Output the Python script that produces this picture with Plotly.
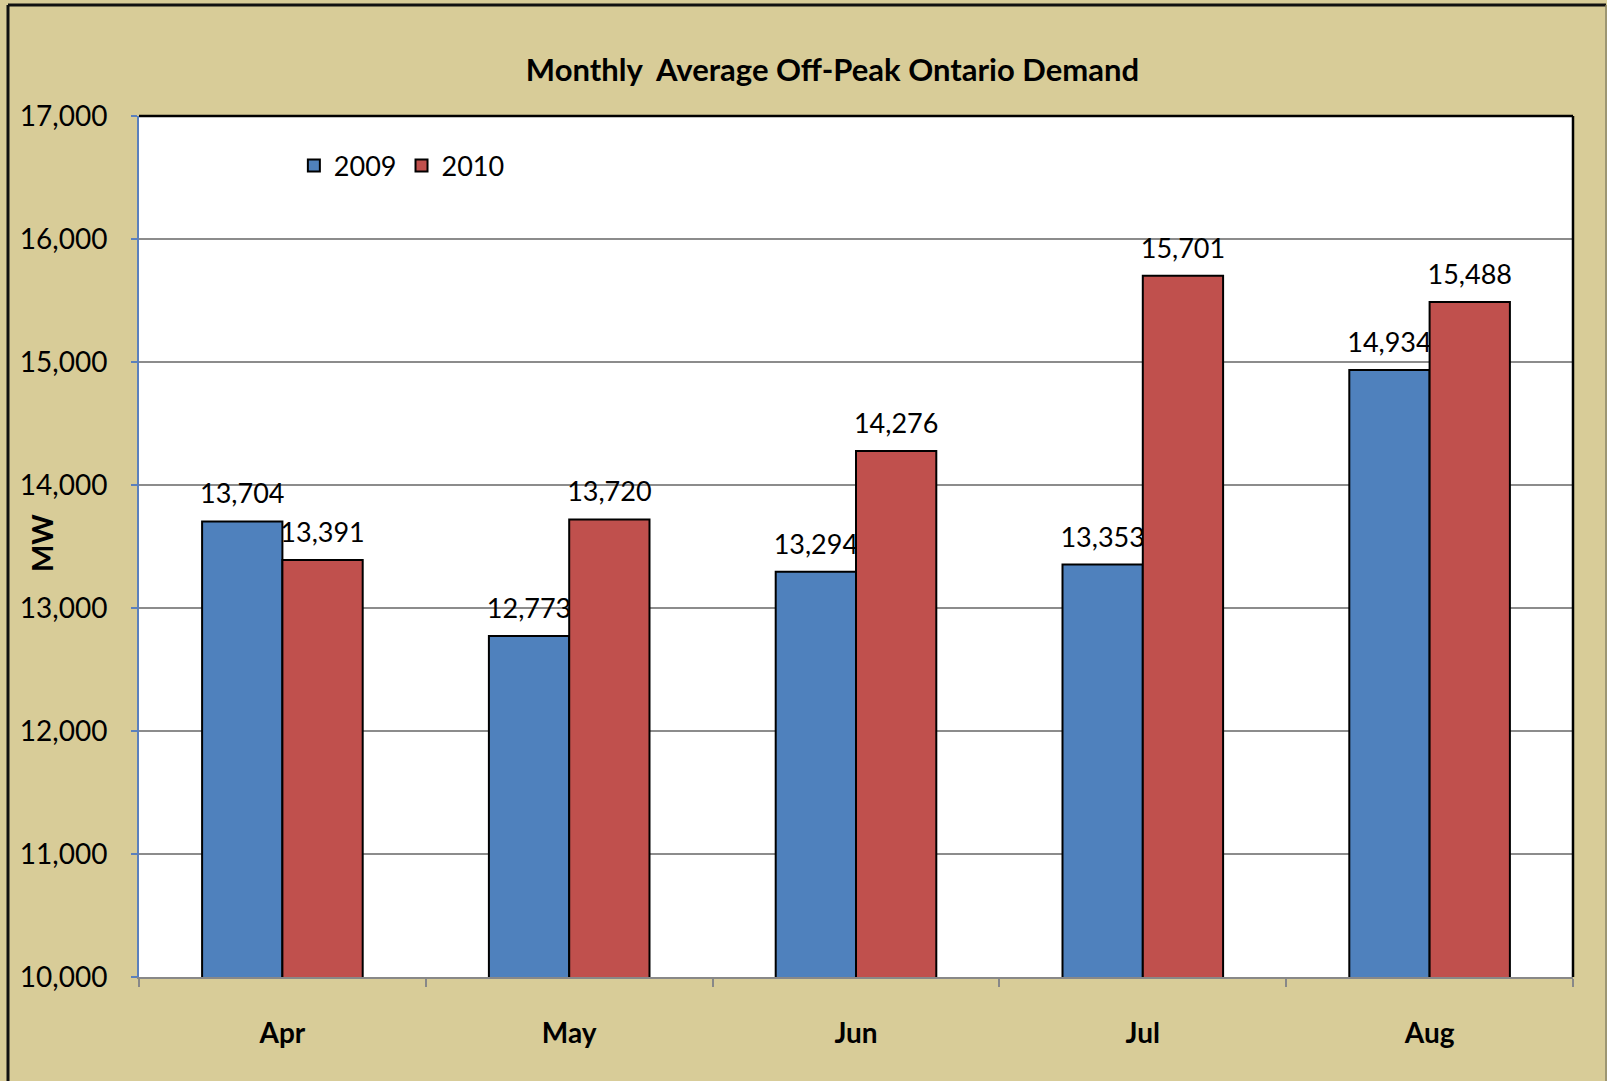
import plotly.graph_objects as go

months = ["Apr", "May", "Jun", "Jul", "Aug"]
demand_2009 = [13704, 12773, 13294, 13353, 14934]
demand_2010 = [13391, 13720, 14276, 15701, 15488]
y_ticks = [10000, 11000, 12000, 13000, 14000, 15000, 16000, 17000]

BG = "#D8CC98"
FONT = "Lato"
LABEL_TMPL = "<span style='font-size:27px'>%{y:,}</span><br> "

fig = go.Figure()
fig.add_trace(go.Bar(
    name="2009", x=months, y=demand_2009,
    marker=dict(color="#4F81BD", line=dict(color="black", width=2)),
    texttemplate=LABEL_TMPL, textposition="outside", cliponaxis=False, constraintext="none",
    textfont=dict(family=FONT, size=10, color="black"),
))
fig.add_trace(go.Bar(
    name="2010", x=months, y=demand_2010,
    marker=dict(color="#C0504D", line=dict(color="black", width=2)),
    texttemplate=LABEL_TMPL, textposition="outside", cliponaxis=False, constraintext="none",
    textfont=dict(family=FONT, size=10, color="black"),
))

fig.update_layout(
    width=1607, height=1081,
    margin=dict(l=139, r=34, t=116, b=104),
    paper_bgcolor=BG, plot_bgcolor="white",
    barmode="group", bargap=0.44, bargroupgap=0,
    font=dict(family=FONT, color="black"),
    title=dict(text="<b>Monthly  Average Off-Peak Ontario Demand</b>",
               x=0.518, xanchor="center", y=1 - 70 / 1081, yanchor="middle",
               font=dict(family=FONT, size=31, color="black")),
    legend=dict(orientation="h", x=0.108, xanchor="left", y=0.942, yanchor="middle",
                bgcolor="rgba(0,0,0,0)", font=dict(family=FONT, size=27),
                itemwidth=30, traceorder="normal"),
    xaxis=dict(showline=True, linecolor="#888888", linewidth=2,
               ticks="outside", tickson="boundaries", ticklen=8, tickcolor="#888888", tickwidth=2,
               tickfont=dict(family=FONT, size=28, weight="bold"),
               ticklabelstandoff=30, showgrid=False),
    yaxis=dict(range=[10000, 17000], tickvals=y_ticks, tickformat=",",
               showline=True, linecolor="#5B80BD", linewidth=2,
               ticks="outside", ticklen=6, tickcolor="#5B80BD", tickwidth=2,
               tickfont=dict(family=FONT, size=28), ticklabelstandoff=18,
               showgrid=True, gridcolor="#8C8C8C", gridwidth=1.5, zeroline=False),
    annotations=[dict(
        text="<b>MW</b>", xref="paper", yref="paper", x=(41 - 139) / 1434, y=0.504,
        textangle=-90, showarrow=False, font=dict(family=FONT, size=29, color="black"),
        xanchor="center", yanchor="middle")],
)

# plot-area top/right border
fig.add_shape(type="line", xref="paper", yref="paper", x0=0, x1=1, y0=1, y1=1,
              line=dict(color="black", width=2.5), layer="above")
fig.add_shape(type="line", xref="paper", yref="paper", x0=1, x1=1, y0=0, y1=1,
              line=dict(color="black", width=2.5), layer="above")
# outer chart border (left/top dark, right thin grey)
XL, XR, YT = (8 - 139) / 1434, (1606 - 139) / 1434, (977 - 5) / 861
fig.add_shape(type="line", xref="paper", yref="paper", x0=XL, x1=XL, y0=-0.2, y1=YT,
              line=dict(color="#111111", width=3), layer="below")
fig.add_shape(type="line", xref="paper", yref="paper", x0=XL, x1=XR, y0=YT, y1=YT,
              line=dict(color="#111111", width=3), layer="below")
fig.add_shape(type="line", xref="paper", yref="paper", x0=XR, x1=XR, y0=-0.2, y1=YT,
              line=dict(color="#8A8466", width=1.5), layer="below")

fig.write_html("out.html", config={"displayModeBar": False},
               post_script="document.body.style.margin='0';")
